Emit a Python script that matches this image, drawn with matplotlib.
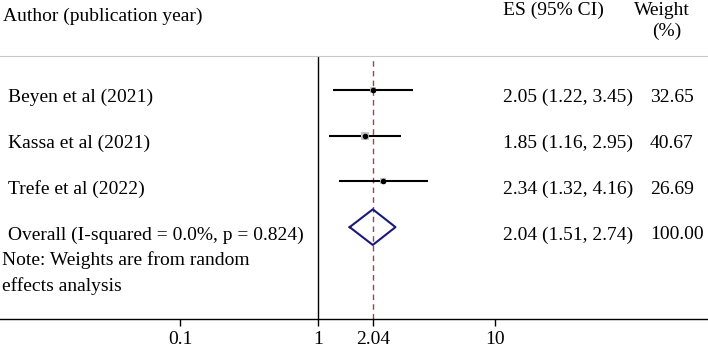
import matplotlib.pyplot as plt
import numpy as np

plt.rcParams['font.family'] = ['Liberation Serif', 'DejaVu Serif']

# study data
studies = ['Beyen et al (2021)', 'Kassa et al (2021)', 'Trefe et al (2022)']
es = np.array([2.05, 1.85, 2.34])
lo = np.array([1.22, 1.16, 1.32])
hi = np.array([3.45, 2.95, 4.16])
weights = np.array([32.65, 40.67, 26.69])

overall_label = 'Overall (I-squared = 0.0%, p = 0.824)'
overall_es, overall_lo, overall_hi = 2.04, 1.51, 2.74

tick_vals = [0.166, 1, 2.04, 10]
tick_labels = ['0.1', '1', '2.04', '10']

W, H = 708, 348
fig = plt.figure(figsize=(W / 100, H / 100), dpi=100)
# axes between the grey header rule and the x axis
ax = fig.add_axes([0, (H - 319) / H, 1, (319 - 56) / H])
ax.set_xscale('log')
ax.set_xlim(10 ** (-318 / 177), 10 ** ((W - 318) / 177))
ax.set_ylim(6.01, 0.256)

fs = 14

for s in ['left', 'right']:
    ax.spines[s].set_visible(False)
ax.spines['top'].set_color('#c8c8c8')
ax.spines['bottom'].set_linewidth(1)
ax.set_yticks([])
ax.set_xticks(tick_vals)
ax.set_xticklabels(tick_labels, fontsize=fs)
ax.xaxis.set_minor_locator(plt.NullLocator())
ax.tick_params(axis='x', length=5, width=1, pad=4)

# reference lines
ax.axvline(1, color='black', lw=1)
ax.axvline(overall_es, color='#9c4450', lw=1, ls=(0, (4, 3)))

rows = np.arange(1, len(studies) + 1)
ax.hlines(rows, lo, hi, color='black', lw=1.5)
for r, e, w in zip(rows, es, weights):
    ax.plot(e, r, 's', color='#c4c4c4', markersize=w / 7, markeredgewidth=0)
    ax.plot(e, r, 'o', color='black', markersize=3)

# overall diamond
orow = len(studies) + 1
dx = [overall_lo, overall_es, overall_hi, overall_es, overall_lo]
dy = [orow, orow - 0.39, orow, orow + 0.39, orow]
ax.plot(dx, dy, color='#1a1a78', lw=1.5)

# text columns
tr = ax.get_yaxis_transform()
x_lab, x_es, x_w = 8 / W, 503 / W, 650 / W
off = 0.17
for r, name, e, l, h, w in zip(rows, studies, es, lo, hi, weights):
    ax.text(x_lab, r + off, name, transform=tr, fontsize=fs, va='center', clip_on=False)
    ax.text(x_es, r + off, f'{e:.2f} ({l:.2f}, {h:.2f})', transform=tr, fontsize=fs, va='center', clip_on=False)
    ax.text(x_w, r + off, f'{w:.2f}', transform=tr, fontsize=fs, va='center', clip_on=False)

ax.text(x_lab, orow + off, overall_label, transform=tr, fontsize=fs, va='center', clip_on=False)
ax.text(x_es, orow + off, f'{overall_es:.2f} ({overall_lo:.2f}, {overall_hi:.2f})', transform=tr,
        fontsize=fs, va='center', clip_on=False)
ax.text(x_w, orow + off, '100.00', transform=tr, fontsize=fs, va='center', clip_on=False)

ax.text(2 / W, 4.72, 'Note: Weights are from random', transform=tr, fontsize=fs, va='center', clip_on=False)
ax.text(2 / W, 5.29, 'effects analysis', transform=tr, fontsize=fs, va='center', clip_on=False)

# headers
ax.text(3 / W, -0.62, 'Author (publication year)', transform=tr, fontsize=fs, va='center', clip_on=False)
ax.text(x_es, -0.75, 'ES (95% CI)', transform=tr, fontsize=fs, va='center', clip_on=False)
ax.text(662 / W, -0.75, 'Weight', transform=tr, fontsize=fs, va='center', ha='center', clip_on=False)
ax.text(667 / W, -0.29, '(%)', transform=tr, fontsize=fs, va='center', ha='center', clip_on=False)

plt.savefig('out.png', dpi=100)
